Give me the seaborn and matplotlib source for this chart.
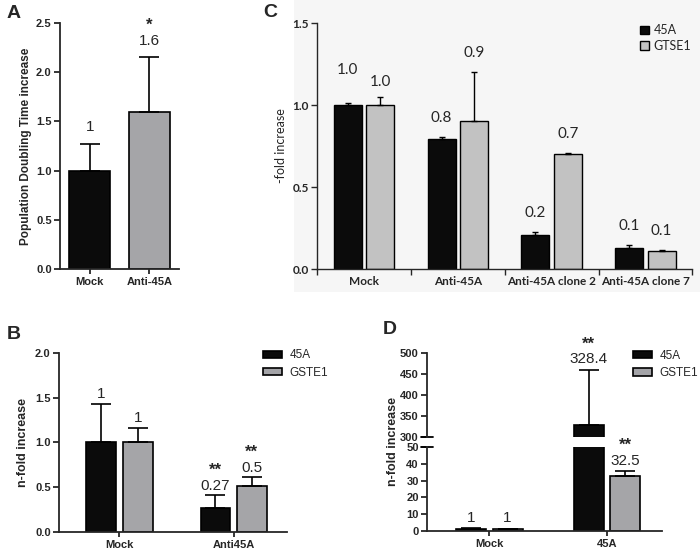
import numpy as np
import pandas as pd
import matplotlib
matplotlib.use("Agg")
import matplotlib.pyplot as plt
import seaborn as sns
from matplotlib.patches import Patch, Rectangle

# ---- datos panel A
a_groups = ["Mock", "Anti-45A"]
a_values = [1.0, 1.6]
a_errors = [0.27, 0.55]
a_labels = ["1", "1.6"]
a_stars = ["", "*"]

# ---- datos panel B
b_groups = ["Mock", "Anti45A"]
b_genes = ["45A", "GSTE1"]
b_45a = [1.0, 0.27]
b_45a_err = [0.43, 0.14]
b_gste1 = [1.0, 0.51]
b_gste1_err = [0.16, 0.10]
b_labels = [["1", "0.27"], ["1", "0.5"]]
b_stars = [["", "**"], ["", "**"]]

# ---- datos panel C
c_groups = ["Mock", "Anti-45A", "Anti-45A clone 2", "Anti-45A clone 7"]
c_genes = ["45A", "GTSE1"]
c_45a = [1.0, 0.79, 0.21, 0.13]
c_45a_err = [0.01, 0.015, 0.015, 0.015]
c_gtse1 = [1.0, 0.90, 0.70, 0.11]
c_gtse1_err = [0.05, 0.30, 0.005, 0.006]
c_labels = [["1.0", "0.8", "0.2", "0.1"], ["1.0", "0.9", "0.7", "0.1"]]

# ---- datos panel D
d_groups = ["Mock", "45A"]
d_genes = ["45A", "GSTE1"]
d_45a = [1.0, 328.4]
d_45a_err = [0.8, 131.6]
d_gste1 = [1.0, 32.5]
d_gste1_err = [0.3, 3.0]
d_labels = [["1", "328.4"], ["1", "32.5"]]
d_stars = [["", "**"], ["", "**"]]

BLACK = "#0b0b0b"
GREY = "#a4a4a8"
GREY_C = "#c2c2c2"
CAL = ["Lato", "DejaVu Sans"]

sns.set_style("ticks")
plt.rcParams["font.family"] = ["Liberation Sans", "DejaVu Sans"]
plt.rcParams["axes.linewidth"] = 1.3
plt.rcParams["xtick.major.width"] = 1.3
plt.rcParams["ytick.major.width"] = 1.3
plt.rcParams["xtick.major.size"] = 3.5
plt.rcParams["ytick.major.size"] = 4
plt.rcParams["xtick.major.pad"] = 2
plt.rcParams["ytick.major.pad"] = 2


def grouped_df(groups, genes, vals1, vals2):
    n = len(groups)
    return pd.DataFrame({
        "group": list(groups) * 2,
        "gene": [genes[0]] * n + [genes[1]] * n,
        "value": list(vals1) + list(vals2),
    })


def add_errors(ax, container, errs, capsize=6, lw=1.2):
    xs = [b.get_x() + b.get_width() / 2 for b in container]
    ys = [b.get_height() for b in container]
    ax.errorbar(xs, ys, yerr=[np.zeros(len(errs)), errs], fmt="none",
                ecolor="black", elinewidth=lw, capsize=capsize, capthick=lw, zorder=3)
    return xs, ys


def add_labels(ax, xs, ys, errs, labels, stars=None, off=9, fs=11, family=None):
    lo, hi = ax.get_ylim()
    offs = off if isinstance(off, list) else [off] * len(xs)
    for i, (x, y, e) in enumerate(zip(xs, ys, errs)):
        top = y + e
        if top < lo or top > hi:
            continue
        kw = {} if family is None else {"family": family}
        ax.annotate(labels[i], (x, top), xytext=(0, offs[i]), textcoords="offset points",
                    ha="center", va="center", fontsize=fs, annotation_clip=False, **kw)
        if stars is not None and stars[i]:
            ax.annotate(stars[i], (x, top), xytext=(0, offs[i] + 11), textcoords="offset points",
                        ha="center", va="center", fontsize=fs + 1, fontweight="bold",
                        annotation_clip=False)


def prism_axes(ax):
    sns.despine(ax=ax)
    ax.tick_params(axis="both", labelsize=8)
    for t in ax.get_xticklabels() + ax.get_yticklabels():
        t.set_fontweight("bold")
    ax.set_xlabel("")


def legend_boxes(ax, names, colors, anchor):
    ax.legend(handles=[Patch(facecolor=c, edgecolor="black", linewidth=1.2, label=n)
                       for n, c in zip(names, colors)],
              loc="upper left", bbox_to_anchor=anchor, frameon=False, fontsize=8.5,
              handlelength=1.6, handleheight=0.6, labelspacing=0.45, handletextpad=0.6,
              borderaxespad=0, borderpad=0)


fig = plt.figure(figsize=(7, 5.49), dpi=100)
# fondo gris claro del panel C
fig.patches.append(Rectangle((0.42, 0.468), 0.58, 0.532, transform=fig.transFigure,
                             facecolor="#f6f6f6", edgecolor="none", zorder=-1))

# ---------------- Panel A
axA = fig.add_axes([0.0857, 0.510, 0.170, 0.448])
dfA = pd.DataFrame({"group": a_groups, "value": a_values})
sns.barplot(data=dfA, x="group", y="value", hue="group", palette=[BLACK, GREY],
            width=0.69, edgecolor="black", linewidth=1.2, errorbar=None, legend=False, ax=axA)
axA.set_xlim(-0.5, 1.5)
axA.set_ylim(0, 2.5)
axA.set_yticks([0, 0.5, 1.0, 1.5, 2.0, 2.5])
axA.set_yticklabels(["0.0", "0.5", "1.0", "1.5", "2.0", "2.5"])
bars = [p for c in axA.containers for p in c]
xs, ys = add_errors(axA, bars, a_errors, capsize=7)
add_labels(axA, xs, ys, a_errors, a_labels, a_stars, off=12)
axA.set_ylabel("Population Doubling Time increase", fontsize=8.5, fontweight="bold", labelpad=3)
prism_axes(axA)

# ---------------- Panel B
axB = fig.add_axes([0.0843, 0.031, 0.326, 0.326])
dfB = grouped_df(b_groups, b_genes, b_45a, b_gste1)
sns.barplot(data=dfB, x="group", y="value", hue="gene", palette=[BLACK, GREY],
            width=0.64, gap=0.19, edgecolor="black", linewidth=1.2, errorbar=None,
            legend=False, ax=axB)
axB.set_xlim(-0.53, 1.47)
axB.set_ylim(0, 2.0)
axB.set_yticks([0, 0.5, 1.0, 1.5, 2.0])
axB.set_yticklabels(["0.0", "0.5", "1.0", "1.5", "2.0"])
for k, (cont, errs) in enumerate(zip(axB.containers, [b_45a_err, b_gste1_err])):
    xs, ys = add_errors(axB, cont, errs, capsize=7)
    add_labels(axB, xs, ys, errs, b_labels[k], b_stars[k], off=7)
axB.set_ylabel("n-fold increase", fontsize=9, fontweight="bold")
legend_boxes(axB, b_genes, [BLACK, GREY], (0.895, 1.02))
prism_axes(axB)

# ---------------- Panel C
axC = fig.add_axes([0.453, 0.510, 0.536, 0.448])
axC.set_facecolor("#f6f6f6")
dfC = grouped_df(c_groups, c_genes, c_45a, c_gtse1)
sns.barplot(data=dfC, x="group", y="value", hue="gene", palette=[BLACK, GREY_C],
            width=0.69, gap=0.13, edgecolor="black", linewidth=1.0, errorbar=None,
            legend=False, ax=axC)
axC.set_xlim(-0.5, 3.5)
axC.set_ylim(0, 1.5)
axC.set_yticks([0, 0.5, 1.0, 1.5])
axC.set_yticklabels(["0.0", "0.5", "1.0", "1.5"])
c_offsets = [[24, 14, 14, 14], [11, 14, 14, 14]]
for k, (cont, errs) in enumerate(zip(axC.containers, [c_45a_err, c_gtse1_err])):
    xs, ys = add_errors(axC, cont, errs, capsize=2.5, lw=1.0)
    add_labels(axC, xs, ys, errs, c_labels[k], off=c_offsets[k], fs=11, family=CAL)
sns.despine(ax=axC)
axC.set_xlabel("")
axC.set_ylabel("-fold increase", fontsize=9, family=CAL)
axC.set_xticks(np.arange(-0.5, 4.0, 1.0), minor=True)
axC.tick_params(axis="x", which="major", length=0, pad=5)
axC.tick_params(axis="x", which="minor", length=4, width=1.0)
axC.tick_params(axis="y", length=4, width=1.0)
for t in axC.get_xticklabels() + axC.get_yticklabels():
    t.set_family(CAL)
    t.set_fontweight("bold")
    t.set_fontsize(8.5)
for s in ["left", "bottom"]:
    axC.spines[s].set_linewidth(1.0)
axC.legend(handles=[Patch(facecolor=BLACK, edgecolor="black", label=c_genes[0]),
                    Patch(facecolor=GREY_C, edgecolor="black", label=c_genes[1])],
           loc="upper left", bbox_to_anchor=(0.83, 1.04), frameon=False,
           prop={"family": CAL, "size": 9},
           handlelength=0.7, handleheight=0.7, labelspacing=0.3, handletextpad=0.4)

# ---------------- Panel D (eje partido)
axDt = fig.add_axes([0.610, 0.204, 0.336, 0.153])
axDb = fig.add_axes([0.610, 0.0328, 0.336, 0.153])
dfD = grouped_df(d_groups, d_genes, d_45a, d_gste1)
for ax in [axDt, axDb]:
    sns.barplot(data=dfD, x="group", y="value", hue="gene", palette=[BLACK, GREY],
                width=0.62, gap=0.18, edgecolor="black", linewidth=1.2, errorbar=None,
                legend=False, ax=ax)
    ax.set_xlim(-0.53, 1.47)
axDt.set_ylim(300, 500)
axDt.set_yticks([300, 350, 400, 450, 500])
axDb.set_ylim(0, 50)
axDb.set_yticks([0, 10, 20, 30, 40, 50])
for ax in [axDt, axDb]:
    for k, (cont, errs) in enumerate(zip(ax.containers, [d_45a_err, d_gste1_err])):
        xs, ys = add_errors(ax, cont, errs, capsize=7)
        add_labels(ax, xs, ys, errs, d_labels[k], d_stars[k], off=7.5)
prism_axes(axDt)
prism_axes(axDb)
axDt.spines["bottom"].set_visible(False)
axDt.tick_params(axis="x", which="both", bottom=False, labelbottom=False)
axDt.set_ylabel("")
axDb.set_ylabel("")
# marcas de corte
axDt.plot([-0.025, 0.025], [0, 0], transform=axDt.transAxes, color="black", lw=1.3, clip_on=False)
axDb.plot([-0.025, 0.025], [1, 1], transform=axDb.transAxes, color="black", lw=1.3, clip_on=False)
fig.text(0.562, 0.195, "n-fold increase", rotation=90, ha="center", va="center",
         fontsize=9, fontweight="bold")
legend_boxes(axDt, d_genes, [BLACK, GREY], (0.877, 1.04))

# letras de los paneles
for letter, x, y in [("A", 0.019, 0.976), ("C", 0.386, 0.978), ("B", 0.019, 0.390), ("D", 0.557, 0.399)]:
    fig.text(x, y, letter, fontsize=14, fontweight="bold", ha="center", va="center")

plt.savefig("out.png", dpi=100)
